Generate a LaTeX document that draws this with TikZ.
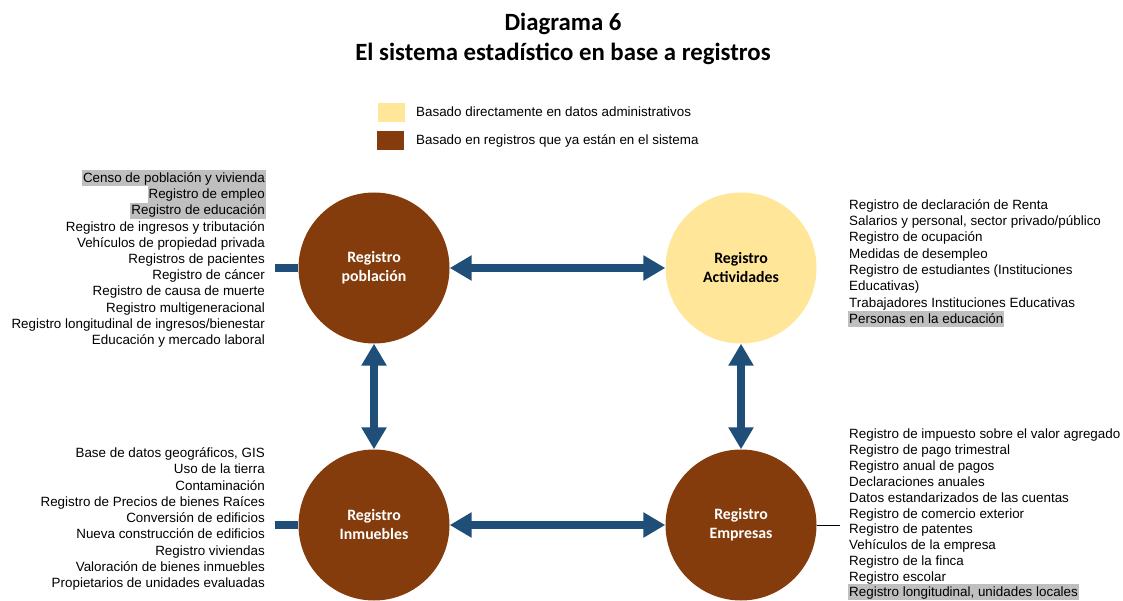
\documentclass[tikz,border=0pt]{standalone}
\usepackage{fontspec}
\setmainfont{Liberation Sans}
\newfontfamily\calib{Carlito}
\usetikzlibrary{arrows.meta}
\definecolor{brn}{HTML}{843C0C}
\definecolor{ylw}{HTML}{FFE699}
\definecolor{blu}{HTML}{1F4E79}
\definecolor{hlgray}{HTML}{BFBFBF}
\begin{document}
\begin{tikzpicture}[x=1pt,y=-1pt,
  reg/.style={circle,minimum size=151pt,inner sep=0pt,align=center,
    font=\calib\bfseries\fontsize{15.8}{19}\selectfont},
  dark/.style={reg,fill=brn,text=white},
  light/.style={reg,fill=ylw,text=black},
  plainitem/.style={inner xsep=1pt,inner ysep=0pt,text height=12.3pt,text depth=3.9pt,
    font=\fontsize{13.4}{16}\selectfont},
  hlitem/.style={plainitem,fill=hlgray},
  rgt/.style={anchor=east},
  lft/.style={anchor=west},
  bigarrow/.style={draw=blu,line width=8pt,
    {Triangle[width=24pt,length=22pt]}-{Triangle[width=24pt,length=22pt]}},
  stub/.style={draw=blu,line width=8pt},
  legbox/.style={minimum width=27pt,minimum height=19.5pt,inner sep=0pt},
  legtext/.style={anchor=west,inner sep=0pt,font=\fontsize{13.4}{16}\selectfont},
  titl/.style={align=center,font=\calib\bfseries\fontsize{24.8}{30}\selectfont}
]
\useasboundingbox (0,0) rectangle (1123,601);

% title
\node[titl] (title) at (563,39) {Diagrama 6\\El sistema estadístico en base a registros};

% legend
\node[legbox,fill=ylw] (ly) at (391.5,112.5) {};
\node[legtext] (lyt) at (416,112) {Basado directamente en datos administrativos};
\node[legbox,fill=brn] (lb) at (390.5,140.5) {};
\node[legtext] (lbt) at (416,141) {Basado en registros que ya están en el sistema};

% circles
\node[dark] (pop) at (374,268) {Registro\\población};
\node[light] (act) at (741,268) {Registro\\Actividades};
\node[dark] (inm) at (374,525) {Registro\\Inmuebles};
\node[dark] (emp) at (741,525) {Registro\\Empresas};

% connectors
\draw[bigarrow] (pop) -- (act);
\draw[bigarrow] (inm) -- (emp);
\draw[bigarrow] (pop) -- (inm);
\draw[bigarrow] (act) -- (emp);
\coordinate (s1) at (275,268);
\coordinate (s2) at (275,525);
\coordinate (s3) at (840,525);
\draw[stub] (s1) -- (pop.west);
\draw[stub] (s2) -- (inm.west);
\draw[black,line width=1pt] (emp.east) -- (s3);

% lists
\foreach \txt/\sty [count=\i from 0] in {
  {Censo de población y vivienda}/hlitem,
  {Registro de empleo}/hlitem,
  {Registro de educación}/hlitem,
  {Registro de ingresos y tributación}/plainitem,
  {Vehículos de propiedad privada}/plainitem,
  {Registros de pacientes}/plainitem,
  {Registro de cáncer}/plainitem,
  {Registro de causa de muerte}/plainitem,
  {Registro multigeneracional}/plainitem,
  {Registro longitudinal de ingresos/bienestar}/plainitem,
  {Educación y mercado laboral}/plainitem}
  \node[\sty,rgt] (pl\i) at (266,{178.3+16.2*\i}) {\txt};

\foreach \txt/\sty [count=\i from 0] in {
  {Registro de declaración de Renta}/plainitem,
  {Salarios y personal, sector privado/público}/plainitem,
  {Registro de ocupación}/plainitem,
  {Medidas de desempleo}/plainitem,
  {Registro de estudiantes (Instituciones}/plainitem,
  {Educativas)}/plainitem,
  {Trabajadores Instituciones Educativas}/plainitem,
  {Personas en la educación}/hlitem}
  \node[\sty,lft] (al\i) at (848,{205.3+16.25*\i}) {\txt};

\foreach \txt/\sty [count=\i from 0] in {
  {Base de datos geográficos, GIS}/plainitem,
  {Uso de la tierra}/plainitem,
  {Contaminación}/plainitem,
  {Registro de Precios de bienes Raíces}/plainitem,
  {Conversión de edificios}/plainitem,
  {Nueva construcción de edificios}/plainitem,
  {Registro viviendas}/plainitem,
  {Valoración de bienes inmuebles}/plainitem,
  {Propietarios de unidades evaluadas}/plainitem}
  \node[\sty,rgt] (il\i) at (266,{453.3+16.25*\i}) {\txt};

\foreach \txt/\sty [count=\i from 0] in {
  {Registro de impuesto sobre el valor agregado}/plainitem,
  {Registro de pago trimestral}/plainitem,
  {Registro anual de pagos}/plainitem,
  {Declaraciones anuales}/plainitem,
  {Datos estandarizados de las cuentas}/plainitem,
  {Registro de comercio exterior}/plainitem,
  {Registro de patentes}/plainitem,
  {Vehículos de la empresa}/plainitem,
  {Registro de la finca}/plainitem,
  {Registro escolar}/plainitem}
  \node[\sty,lft] (el\i) at (848,{434.3+15.9*\i}) {\txt};
\node[hlitem,lft,text depth=3pt] (el10) at (848,592) {Registro longitudinal, unidades locales};
\end{tikzpicture}
\end{document}
